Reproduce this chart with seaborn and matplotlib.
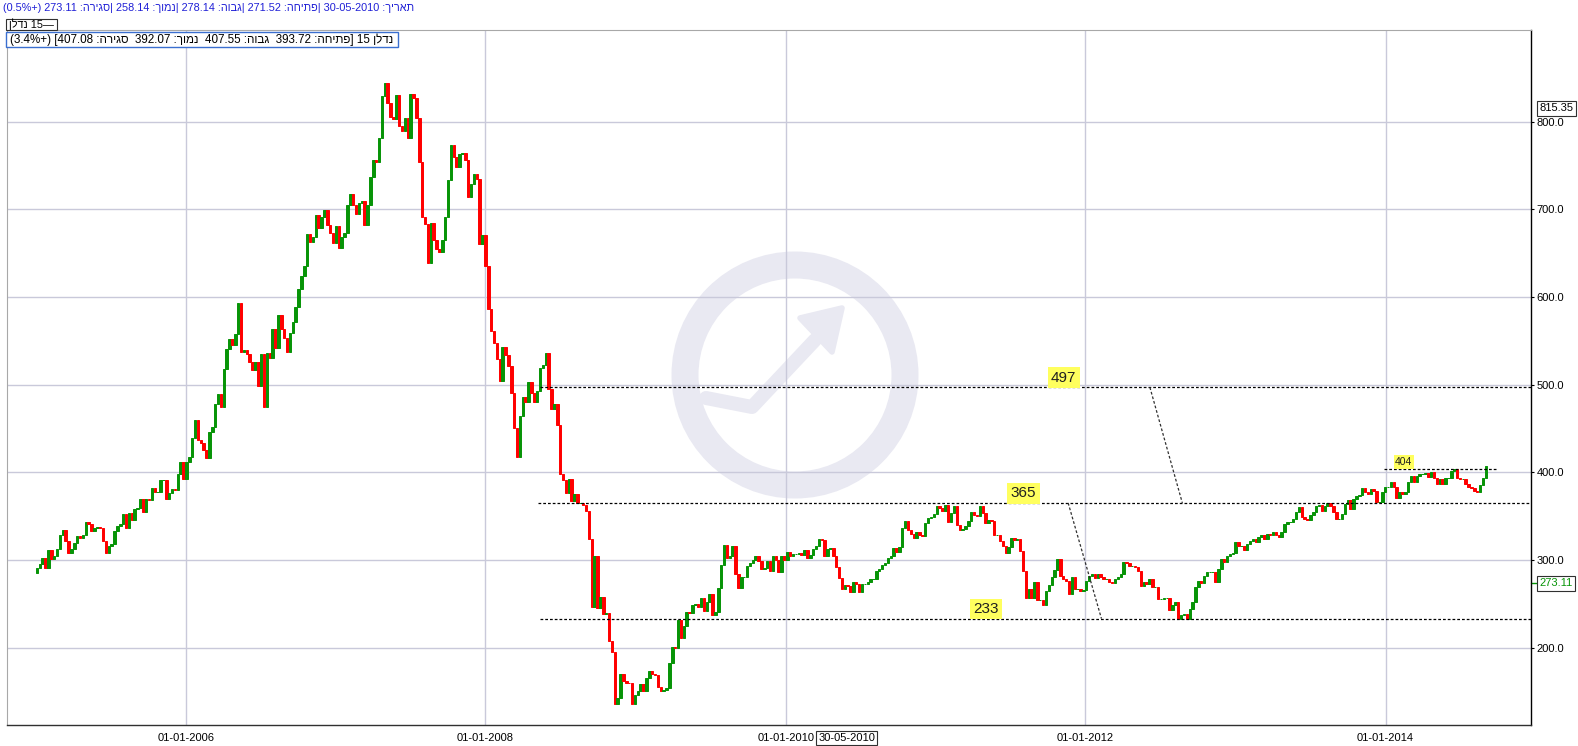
import numpy as np
import pandas as pd
import matplotlib
matplotlib.use("Agg")
import matplotlib.pyplot as plt
from matplotlib.patches import Circle, Rectangle, Polygon
import seaborn as sns

sns.set_theme(style="white")
plt.rcParams["font.family"] = ["Liberation Sans", "DejaVu Sans"]

# ---------------- data (weekly candles, close values) ----------------
first_week = "2005-01-04"
first_open = 285.0
close_2005 = [291, 295, 302, 291, 311, 301, 304, 312, 329, 334, 322, 308, 312, 319, 327, 325,
              328, 343, 341, 333, 336, 338, 337, 322, 308, 316, 318, 333, 339, 341, 352, 337,
              354, 346, 358, 359, 370, 355, 369, 368, 382, 378, 378, 391, 391, 370, 376, 381,
              380, 398, 412, 392, 412, 418, 439, 460, 437, 433, 425, 416, 446, 452, 478]
close_2006_07 = [489, 474, 518, 541, 552, 545, 558, 593, 537, 540, 535, 526, 517, 526, 498, 535,
                 474, 536, 530, 564, 542, 579, 563, 553, 537, 559, 572, 589, 609, 624, 635, 672,
                 663, 668, 694, 679, 691, 699, 682, 673, 662, 681, 656, 669, 673, 705, 718, 705,
                 695, 707, 710, 682, 705, 737, 757, 754, 781, 829, 844, 822, 805, 803, 831, 795,
                 789, 804, 782, 832, 827, 804, 754, 691, 683, 639, 685, 665, 655, 651, 665, 691,
                 734, 773, 760, 748, 763, 764, 756, 714, 729, 741, 735, 661, 671, 636, 586, 561,
                 548, 529, 504]
close_2008 = [543, 534, 521, 491, 451, 418, 464, 486, 480, 503, 490, 480, 493, 519, 522, 536,
              495, 472, 478, 454, 398, 391, 376, 392, 367, 375, 365, 365, 363, 356, 324, 246, 305]
close_2008_09 = [245, 258, 238, 239, 207, 195, 135, 142, 170, 162, 160, 159, 136, 146, 150, 158,
                 150, 165, 173, 170, 169, 155, 150, 151, 154, 182, 201, 199, 232, 211, 225, 240,
                 239, 248, 250, 246, 257, 242, 252, 261, 237, 241, 268, 294, 317, 302, 305, 316,
                 284, 268, 280, 281, 293, 296, 300, 304, 299, 290, 291, 299, 287, 304, 300, 286,
                 304, 300, 309, 304, 307, 307, 308]
close_2010_11 = [306, 311, 302, 306, 313, 316, 324, 323, 304, 313, 314, 305, 292, 279, 267, 271,
                 270, 263, 275, 273, 263, 272, 272, 275, 278, 278, 287, 290, 294, 296, 302, 305,
                 314, 309, 315, 337, 344, 334, 330, 325, 332, 329, 327, 342, 348, 349, 352, 362,
                 359, 356, 363, 343, 354, 362, 340, 334, 335, 339, 344, 355, 351, 350, 362, 353,
                 342, 345, 344, 329, 329, 322, 316, 308, 315, 325, 323, 324, 310, 287, 256, 267,
                 257, 275, 254, 254, 248, 265, 271]
close_2011_13 = [280, 288, 301, 282, 278, 276, 261, 280, 267, 267, 265, 266, 276, 282, 284, 279,
                 284, 281, 278, 278, 275, 274, 278, 281, 284, 298, 297, 293, 293, 292, 287, 270,
                 275, 273, 278, 269, 269, 255, 255, 257, 257, 243, 248, 252, 233, 237, 238, 233,
                 244, 252, 269, 276, 274, 282, 286, 286, 286, 275, 290, 301, 298, 305, 307, 308,
                 320, 316, 316, 311, 318, 322]
close_2013_14 = [324, 320, 326, 328, 324, 330, 328, 332, 328, 326, 332, 341, 343, 343, 347, 355,
                 360, 349, 347, 345, 351, 355, 362, 363, 356, 362, 365, 362, 355, 347, 347, 352,
                 364, 368, 358, 370, 373, 374, 382, 377, 375, 381, 379, 366, 366, 377, 383, 383,
                 389, 383, 371, 377, 375, 377, 389, 396, 389, 396, 398, 398, 399, 395, 400, 393,
                 387, 392, 387, 393, 393, 402, 404, 394, 392, 392, 387, 383, 382, 379, 378, 385,
                 393.72, 407.08]

# support / resistance annotations
levels = [497, 365, 233]
level_start = ["2008-05-13", "2008-05-08", "2008-05-13"]
level_label_date = ["2011-11-09", "2011-08-03", "2011-05-03"]
short_level = 404
short_level_span = ["2013-12-28", "2014-10-02"]
short_label_date = "2014-02-14"
diag_dates = [("2012-06-06", "2012-08-24"), ("2011-11-20", "2012-02-09")]
diag_values = [(497, 365), (365, 233)]

y_ticks = [200, 300, 400, 500, 600, 700, 800]
x_tick_dates = ["2006-01-01", "2008-01-01", "2010-01-01", "2012-01-01", "2014-01-01"]
x_tick_labels = ["01-01-2006", "01-01-2008", "01-01-2010", "01-01-2012", "01-01-2014"]
cursor_date = "2010-05-30"
cursor_label = "30-05-2010"
cursor_value = 273.11
top_value = 815.35

# ---------------- build ----------------
closes = np.array(close_2005 + close_2006_07 + close_2008 + close_2008_09 +
                  close_2010_11 + close_2011_13 + close_2013_14, dtype=float)
opens = np.concatenate([[first_open], closes[:-1]])
dates = pd.date_range(first_week, periods=len(closes), freq="7D")

GREEN = "#079407"
RED = "#ff0000"
GRID = "#c9c9da"
BLUE = "#1f1fd6"

W, H = 1578, 746
L, R, T, B = 7, 1531, 30, 725
fig = plt.figure(figsize=(W / 100, H / 100), dpi=100, facecolor="white")

# watermark (drawn underneath)
wm = fig.add_axes([0, 0, 1, 1], zorder=0)
wm.set_xlim(0, W); wm.set_ylim(H, 0); wm.axis("off")
WMC = "#e9e9f2"
wm.add_patch(Circle((795, 375), 110, fill=False, ec=WMC, lw=27 * 0.72))
wm.plot([706, 752, 815], [398, 407, 340], color=WMC, lw=14 * 0.72,
        solid_capstyle="round", solid_joinstyle="round")
wm.add_patch(Polygon([(842, 308), (800, 318), (832, 352)], closed=True, fc=WMC, ec=WMC,
                     lw=4, joinstyle="round"))

ax = fig.add_axes([L / W, 1 - B / H, (R - L) / W, (B - T) / H], zorder=2)
ax.set_facecolor("none")

up = closes >= opens
colors = np.where(up, GREEN, RED)
ax.bar(dates, closes - opens, bottom=opens, width=6.0, color=colors, edgecolor=colors,
       linewidth=0.7, zorder=3)

ax.set_ylim(111.6, 904.8)
ax.set_xlim(pd.Timestamp("2004-10-23"), pd.Timestamp("2014-12-21"))
ax.set_yticks(y_ticks)
ax.set_yticklabels([f"{v:.1f}" for v in y_ticks])
ax.set_xticks(pd.to_datetime(x_tick_dates))
ax.set_xticklabels(x_tick_labels)
ax.yaxis.tick_right()
ax.grid(True, color=GRID, lw=1, zorder=0)
ax.set_axisbelow(True)
ax.tick_params(axis="y", which="both", right=True, left=False, length=2.5, width=0.8,
               pad=1.5, labelsize=8, colors="black", direction="out")
ax.tick_params(axis="x", length=0, pad=6, labelsize=8, colors="black")
for s, c, w in [("right", "black", 1.0), ("bottom", "#303030", 1.0),
                ("left", "#a8a8a8", 0.8), ("top", "#a8a8a8", 0.8)]:
    ax.spines[s].set_color(c)
    ax.spines[s].set_linewidth(w)
    ax.spines[s].set_visible(True)

# level lines
end = pd.Timestamp("2014-12-21")
dot = (0, (2.2, 1.6))
for lv, st, ld in zip(levels, level_start, level_label_date):
    df = pd.DataFrame({"d": [pd.Timestamp(st), end], "v": [lv, lv]})
    sns.lineplot(data=df, x="d", y="v", ax=ax, color="black", lw=0.9, linestyle=dot,
                 zorder=4)
    ax.text(pd.Timestamp(ld), lv + 3, str(lv), ha="center", va="bottom", fontsize=11,
            color="#202020", zorder=5,
            bbox=dict(boxstyle="square,pad=0.22", fc="#ffff5e", ec="none"))
df = pd.DataFrame({"d": pd.to_datetime(short_level_span), "v": [short_level, short_level]})
sns.lineplot(data=df, x="d", y="v", ax=ax, color="black", lw=0.9, linestyle=dot, zorder=4)
ax.text(pd.Timestamp(short_label_date), short_level + 2, str(short_level), ha="center",
        va="bottom", fontsize=7.5, color="#202020", zorder=5,
        bbox=dict(boxstyle="square,pad=0.15", fc="#ffff5e", ec="none"))
for (d0, d1), (v0, v1) in zip(diag_dates, diag_values):
    ax.plot(pd.to_datetime([d0, d1]), [v0, v1], color="#303030", lw=0.9, linestyle=dot,
            zorder=4)
ax.set_xlabel(""); ax.set_ylabel("")

# right-axis value boxes
yt = ax.get_yaxis_transform()
ax.text(1.0055, top_value, f"{top_value:.2f}", transform=yt, ha="left", va="center",
        fontsize=8, color="black", clip_on=False,
        bbox=dict(boxstyle="square,pad=0.2", fc="white", ec="#303030", lw=0.8))
ax.text(1.0055, cursor_value, f"{cursor_value:.2f}", transform=yt, ha="left", va="center",
        fontsize=8, color=GREEN, clip_on=False,
        bbox=dict(boxstyle="square,pad=0.2", fc="white", ec="#303030", lw=0.8))
ax.plot([1.0, 1.004], [cursor_value, cursor_value], transform=yt, color=GREEN, lw=1,
        clip_on=False)
xt = ax.get_xaxis_transform()
ax.text(pd.Timestamp(cursor_date), -0.0187, cursor_label, transform=xt, ha="center",
        va="center", fontsize=8, color="black", clip_on=False,
        bbox=dict(boxstyle="square,pad=0.2", fc="white", ec="#303030", lw=0.8))

# header (Hebrew written in visual order)
def rv(s):
    return s[::-1]

ov = fig.add_axes([0, 0, 1, 1], zorder=3)
ov.set_xlim(0, W); ov.set_ylim(H, 0); ov.axis("off")

line1 = ("(0.5%+) 273.11 :" + rv("סגירה") + "| 258.14 :" + rv("נמוך") + "| 278.14 :" +
         rv("גבוה") + "| 271.52 :" + rv("פתיחה") + "| 30-05-2010 :" + rv("תאריך"))
line2 = rv("נדלן") + " 15—"
line3 = ("(3.4%+) [407.08 :" + rv("סגירה") + "  392.07 :" + rv("נמוך") + "  407.55 :" +
         rv("גבוה") + "  393.72 :" + rv("פתיחה") + "] 15 " + rv("נדלן"))

renderer = fig.canvas.get_renderer()

def fit(txt, x0, x1, yc, color):
    t = ov.text(x0, yc, txt, ha="left", va="center", fontsize=8, color=color)
    w = t.get_window_extent(renderer).width
    t.set_fontsize(8 * (x1 - x0) / w)
    return t

ov.add_patch(Rectangle((6, 18.5), 51, 11.5, fill=True, fc="white", ec="#303030", lw=0.8))
ov.add_patch(Rectangle((6, 32), 392, 14.5, fill=True, fc="white", ec="#3a6fd0", lw=1.0))
fit(line1, 3, 413, 8, BLUE)
fit(line2, 9, 54, 24.5, "black")
fit(line3, 10, 395, 39.5, "black")

fig.savefig("out.png", dpi=100, facecolor="white")
